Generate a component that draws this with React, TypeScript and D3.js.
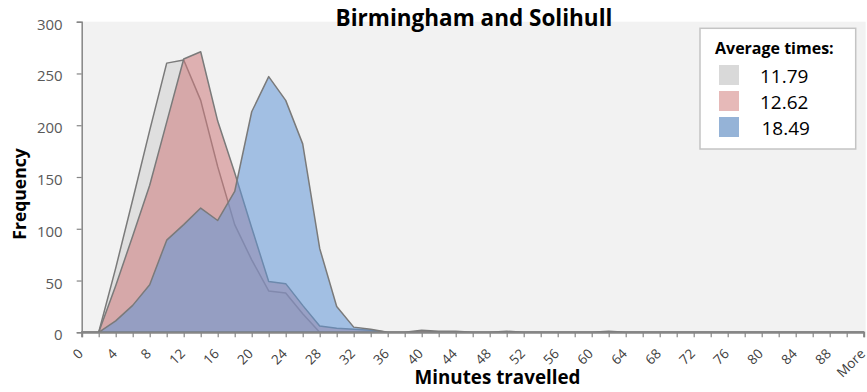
import React, { useEffect, useRef } from "react";
import * as d3 from "d3";

// Bin labels (minutes) — every 2 minutes up to 90, then overflow bin
const categories: string[] = [
  ...d3.range(0, 92, 2).map((d) => String(d)),
  "More",
];

// Frequency per bin for each group
const seriesA: number[] = [
  0, 0, 62, 128, 195, 260, 263, 224, 160, 104, 70, 40, 38, 18, 0, 0,
  0, 0, 0, 0, 0, 0, 0, 0, 0, 0, 0, 0, 0, 0, 0, 0,
  0, 0, 0, 0, 0, 0, 0, 0, 0, 0, 0, 0, 0, 0, 0,
];
const seriesB: number[] = [
  0, 0, 45, 93, 142, 203, 264, 271, 204, 154, 101, 49, 47, 26, 6, 4,
  3, 2, 0, 0, 2, 1, 1, 0, 0, 1, 0, 0, 0, 0, 0, 1,
  0, 0, 0, 0, 0, 0, 0, 0, 0, 0, 0, 0, 0, 0, 0,
];
const seriesC: number[] = [
  0, 0, 11, 26, 46, 89, 104, 120, 108, 136, 213, 247, 224, 182, 81, 25,
  5, 3, 0, 0, 0, 0, 0, 0, 0, 0, 0, 0, 0, 0, 0, 0,
  0, 0, 0, 0, 0, 0, 0, 0, 0, 0, 0, 0, 0, 0, 0,
];

const legendLabels: string[] = ["11.79", "12.62", "18.49"];
const yTicks: number[] = [0, 50, 100, 150, 200, 250, 300];

const fills = ["rgb(207,207,207)", "rgb(206,122,124)", "rgb(96,149,215)"];
const swatches = ["#d9d9d9", "#e6b9b8", "#95b3d7"];

const W = 867;
const H = 392;
const left = 81.7;
const right = 863.7;
const top = 21.7;
const bottom = 332.3;
const FONT = "'Open Sans', 'Noto Sans', sans-serif";

export default function App() {
  const xAxisRef = useRef<SVGGElement>(null);
  const yAxisRef = useRef<SVGGElement>(null);

  const x = d3.scalePoint<string>().domain(categories).range([left, right]).padding(0);
  const y = d3.scaleLinear().domain([0, 300]).range([bottom, top]);

  const area = d3
    .area<number>()
    .x((_, i) => x(categories[i]) as number)
    .y0(y(0))
    .y1((d) => y(d))
    .curve(d3.curveLinear);

  useEffect(() => {
    const gx = d3.select(xAxisRef.current!);
    gx.selectAll("*").remove();
    gx.call(
      d3
        .axisBottom(x)
        .tickSize(5)
        .tickFormat((d, i) => (i % 2 === 0 ? d : ""))
    );
    gx.select(".domain").attr("stroke", "#868686").attr("stroke-width", 2);
    gx.selectAll(".tick line").attr("stroke", "#868686").attr("stroke-width", 1.2);
    gx.selectAll(".tick text")
      .attr("x", 0)
      .attr("y", 0)
      .attr("dy", "0.35em")
      .attr("text-anchor", "end")
      .attr("transform", "translate(-1.5,19) rotate(-45)")
      .attr("fill", "#404040")
      .attr("font-size", 13.5)
      .attr("font-family", FONT);

    const gy = d3.select(yAxisRef.current!);
    gy.selectAll("*").remove();
    gy.call(d3.axisLeft(y).tickValues(yTicks).tickSize(5).tickPadding(14));
    gy.select(".domain").attr("stroke", "#868686").attr("stroke-width", 1.5);
    gy.selectAll(".tick line").attr("stroke", "#868686").attr("stroke-width", 1.2);
    gy.selectAll(".tick text")
      .attr("fill", "#595959")
      .attr("font-size", 15)
      .attr("dy", "0.5em")
      .attr("font-family", FONT);
  }, []);

  const series = [seriesA, seriesB, seriesC];

  return (
    <svg width={W} height={H} style={{ position: "absolute", left: 0, top: 0 }}>
      <rect x={0} y={0} width={W} height={H} fill="#ffffff" />
      <rect x={left} y={top} width={right - left + 2} height={bottom - top} fill="#f2f2f2" />
      {series.map((s, k) => (
        <path
          key={k}
          d={area(s) as string}
          fill={fills[k]}
          fillOpacity={0.55}
          stroke="#7a7a7a"
          strokeWidth={1.5}
          strokeLinejoin="round"
        />
      ))}
      <g ref={xAxisRef} transform={`translate(0,${bottom})`} />
      <g ref={yAxisRef} transform={`translate(${left},0)`} />

      <text x={474} y={26} textAnchor="middle" fontFamily={FONT} fontWeight="bold" fontSize={22.5} fill="#000">
        Birmingham and Solihull
      </text>
      <text x={497.5} y={384} textAnchor="middle" fontFamily={FONT} fontWeight="bold" fontSize={18.8} fill="#000">
        Minutes travelled
      </text>
      <text
        transform="translate(26,194) rotate(-90)"
        textAnchor="middle"
        fontFamily={FONT}
        fontWeight="bold"
        fontSize={17.5}
        fill="#000"
      >
        Frequency
      </text>

      <g>
        <rect x={700} y={28.3} width={155.7} height={120.7} fill="#ffffff" stroke="#c4c4c4" strokeWidth={1.5} />
        <text x={715} y={54} fontFamily={FONT} fontWeight="bold" fontSize={16} fill="#000">
          Average times:
        </text>
        {legendLabels.map((lab, i) => (
          <g key={lab}>
            <rect x={719} y={65 + i * 26} width={20} height={20} fill={swatches[i]} />
            <text x={760 + (i === 2 ? 1.5 : 0)} y={83 + i * 26} fontFamily={FONT} fontSize={19} fill="#000">
              {lab}
            </text>
          </g>
        ))}
      </g>
    </svg>
  );
}
